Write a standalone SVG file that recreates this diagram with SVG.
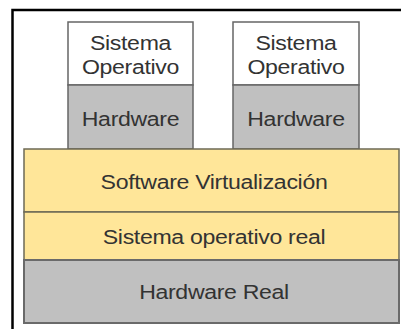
<svg xmlns="http://www.w3.org/2000/svg" width="401" height="329" viewBox="0 0 401 329">
  <style>
    .lbl { font-family: "Liberation Sans", Arial, sans-serif; font-size: 21px; fill: #333333; text-anchor: middle; letter-spacing: -0.3px; }
    .os { fill: #ffffff; stroke: #666666; stroke-width: 1.5; }
    .hw { fill: #c0c0c0; stroke: #666666; stroke-width: 1.5; }
    .yl { fill: #ffe699; stroke: #6e6a55; stroke-width: 1.5; }
    .base { fill: #c0c0c0; stroke: #6a6a6a; stroke-width: 2; }
  </style>
  <rect x="0" y="0" width="401" height="329" fill="#ffffff"/>
  <!-- outer frame -->
  <rect x="12.5" y="10" width="400" height="330" fill="none" stroke="#000000" stroke-width="2.5"/>

  <!-- guest machine 1 -->
  <g id="guest1-os">
    <rect class="os" x="68" y="22" width="125" height="63"/>
    <text class="lbl" transform="translate(130.5 50) scale(1.1 1)">Sistema</text>
    <text class="lbl" transform="translate(130.5 74) scale(1.1 1)">Operativo</text>
  </g>
  <g id="guest1-hw">
    <rect class="hw" x="68" y="85" width="125" height="64"/>
    <text class="lbl" transform="translate(130.5 126) scale(1.1 1)">Hardware</text>
  </g>

  <!-- guest machine 2 -->
  <g id="guest2-os">
    <rect class="os" x="233" y="22" width="126" height="63"/>
    <text class="lbl" transform="translate(296 50) scale(1.1 1)">Sistema</text>
    <text class="lbl" transform="translate(296 74) scale(1.1 1)">Operativo</text>
  </g>
  <g id="guest2-hw">
    <rect class="hw" x="233" y="85" width="126" height="64"/>
    <text class="lbl" transform="translate(296 126) scale(1.1 1)">Hardware</text>
  </g>

  <!-- host layers -->
  <g id="virtualization">
    <rect class="yl" x="24" y="149" width="375" height="63"/>
    <text class="lbl" transform="translate(214 189) scale(1.1 1)">Software Virtualización</text>
  </g>
  <g id="host-os">
    <rect class="yl" x="24" y="212" width="375" height="48"/>
    <text class="lbl" transform="translate(214 244) scale(1.1 1)">Sistema operativo real</text>
  </g>
  <g id="host-hw">
    <rect class="base" x="24" y="260" width="375" height="63"/>
    <text class="lbl" transform="translate(214 299) scale(1.1 1)">Hardware Real</text>
  </g>

  <g id="connectors"></g>
</svg>
